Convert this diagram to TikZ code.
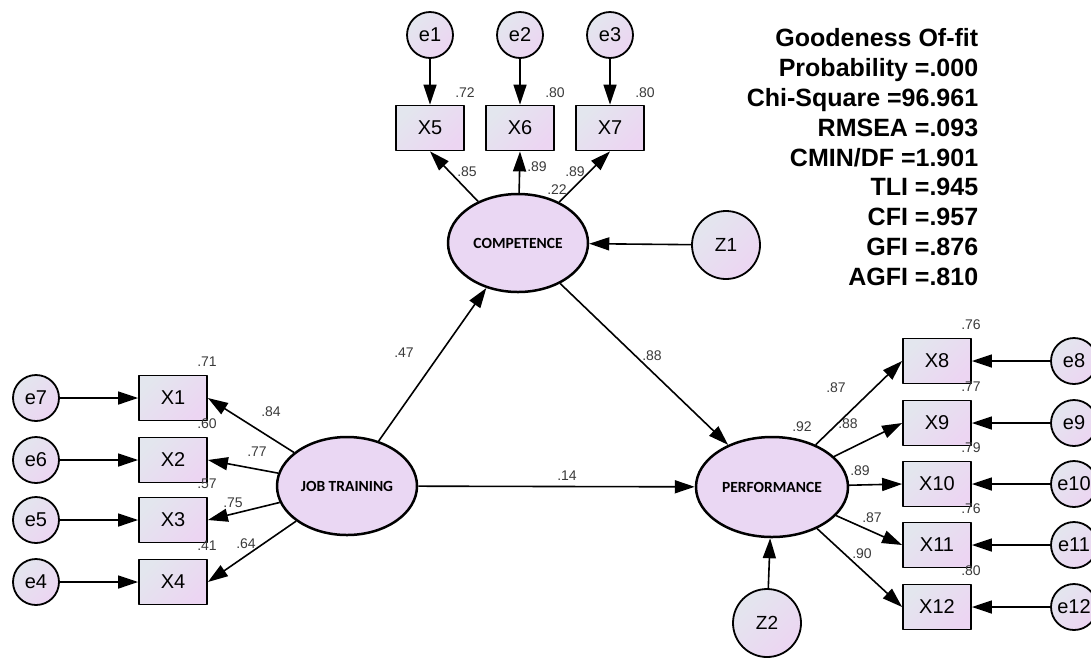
\documentclass[tikz,border=0pt]{standalone}
\usepackage{fontspec}
\setmainfont{Liberation Sans}
\newfontfamily\latfont{Carlito}
\usetikzlibrary{arrows.meta,shapes.geometric}
\definecolor{boxA}{HTML}{E3E6EE}
\definecolor{boxB}{HTML}{ECD5F2}
\definecolor{latfill}{HTML}{EAD7F3}
\definecolor{lblgray}{HTML}{3A3A3A}
\tikzset{
	obs/.style={draw, line width=1.8pt, minimum width=68pt, minimum height=45pt, top color=boxA, bottom color=boxB, shading angle=45, font=\fontsize{20}{22}\selectfont},
	err/.style={circle, draw, line width=1.8pt, minimum size=46pt, inner sep=0pt, top color=boxA, bottom color=boxB, shading angle=45, font=\fontsize{20}{22}\selectfont},
	dist/.style={err, minimum size=68pt, font=\fontsize{19}{21}\selectfont},
	lat/.style={ellipse, draw, line width=2.5pt, fill=latfill, minimum width=140pt, minimum height=98pt, inner sep=0pt, font=\latfont\bfseries\fontsize{15.5}{17}\selectfont},
	coef/.style={font=\fontsize{14}{16}\selectfont, text=lblgray, inner sep=0pt}
}
\begin{document}
\begin{tikzpicture}[x=1pt, y=-1pt, line join=round, >={Triangle[length=20pt,width=13pt]}, every path/.append style={line width=1.6pt}]
	\useasboundingbox (0,0) rectangle (1091,657);
	\node[lat] (CO) at (518,243) {COMPETENCE};
	\node[lat] (JT) at (347,486) {JOB TRAINING};
	\node[lat, minimum width=152pt, minimum height=100pt] (PE) at (772,487) {PERFORMANCE};
	\node[dist] (Z1) at (726,245) {Z1};
	\node[dist] (Z2) at (767,623) {Z2};
	\foreach \n/\x/\e/\r in {5/430/1/.72, 6/520/2/.80, 7/610/3/.80}{
		\node[obs] (X\n) at (\x,128) {X\n};
		\node[err] (e\e) at (\x,35) {e\e};
		\draw[->] (e\e) -- (X\n);
		\draw[->] (CO) -- (X\n.south);
		\node[coef] at (\x+35,93) {\r};
	}
	\foreach \n/\y/\e/\r in {1/398/7/.71, 2/460/6/.60, 3/520/5/.57, 4/582/4/.41}{
		\node[obs] (X\n) at (173,\y) {X\n};
		\node[err] (e\e) at (36,\y) {e\e};
		\draw[->] (e\e) -- (X\n);
		\draw[->] (JT) -- (X\n.east);
		\node[coef] at (207,\y-36) {\r};
	}
	\foreach \n/\y/\r in {8/361/.76, 9/423/.77, 10/484/.79, 11/545/.76, 12/607/.80}{
		\node[obs] (X\n) at (937,\y) {X\n};
		\node[err] (e\n) at (1074,\y) {e\n};
		\draw[->] (e\n) -- (X\n);
		\draw[->] (PE) -- (X\n.west);
		\node[coef] at (971,\y-36) {\r};
	}
	\draw[->] (JT) -- (CO);
	\draw[->] (CO) -- (PE);
	\draw[->] (JT) -- (PE);
	\draw[->] (Z1) -- (CO);
	\draw[->] (Z2) -- (PE);
	\path[coef] (467,172) node[coef]{.85} (537,167) node[coef]{.89} (575,172) node[coef]{.89}
	(557,190) node[coef]{.22}
	(271,412) node[coef]{.84} (257,452) node[coef]{.77} (233,503) node[coef]{.75} (246,544) node[coef]{.64}
	(836,388) node[coef]{.87} (848,424) node[coef]{.88} (860,471) node[coef]{.89} (872,518) node[coef]{.87} (862,554) node[coef]{.90}
	(802,427) node[coef]{.92}
	(404,353) node[coef]{.47} (652,356) node[coef]{.88} (567,476) node[coef]{.14};
	\node[anchor=north east, align=right, inner sep=0pt, font=\bfseries\fontsize{25}{29.8}\selectfont] (fit) at (979,28)
	{Goodeness Of-fit\\Probability =.000\\Chi-Square =96.961\\RMSEA =.093\\CMIN/DF =1.901\\TLI =.945\\CFI =.957\\GFI =.876\\AGFI =.810};
\end{tikzpicture}
\end{document}
